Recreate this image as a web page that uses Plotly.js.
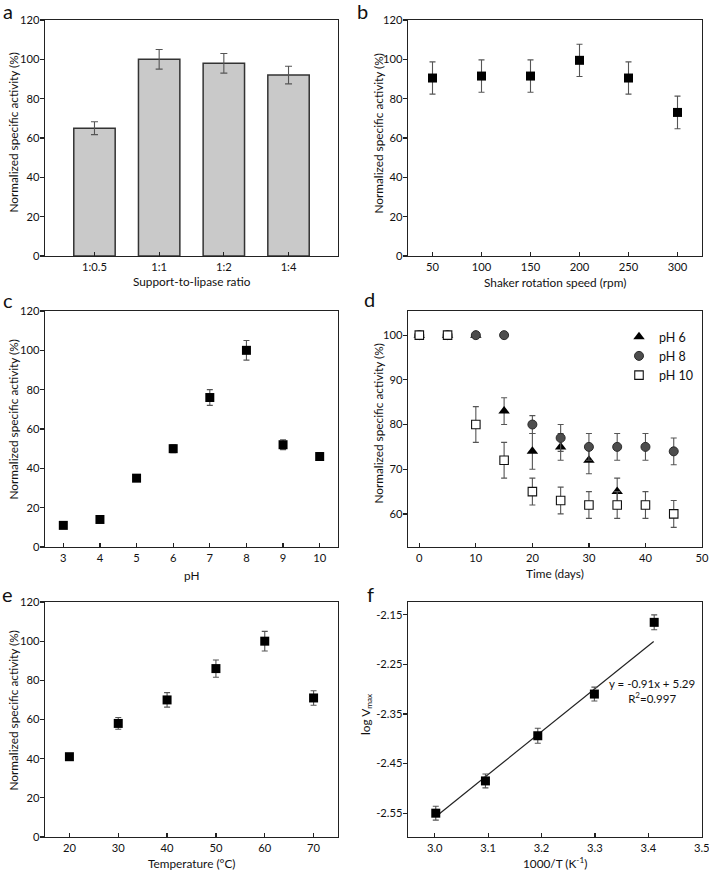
<!DOCTYPE html>
<html>
<head>
<meta charset="utf-8">
<script src="https://cdn.plot.ly/plotly-3.0.1.min.js"></script>
<style>
  html, body { margin: 0; padding: 0; background: #ffffff; }
  #chart { width: 709px; height: 870px; }
</style>
</head>
<body>
<div id="chart"></div>
<script>
// ---------- Data ----------
// (a) support-to-lipase ratio
const ratioCats = ['1:0.5', '1:1', '1:2', '1:4'];
const ratioVals = [65, 100, 98, 92];
const ratioErr = [3.3, 5, 5, 4.5];

// (b) shaker rotation speed
const speedX = [50, 100, 150, 200, 250, 300];
const speedVals = [90.5, 91.5, 91.5, 99.5, 90.5, 73];
const speedErr = [8.2, 8.2, 8.2, 8.2, 8.2, 8.3];

// (c) pH
const phX = [3, 4, 5, 6, 7, 8, 9, 10];
const phVals = [11, 14, 35, 50, 76, 100, 52, 46];
const phErr = [1, 1, 1, 2, 4, 5, 2.5, 2];

// (d) storage stability
const timeDays = [0, 5, 10, 15, 20, 25, 30, 35, 40, 45];
const ph6Days = [0, 5, 10, 15, 20, 25, 30, 35];
const ph6Vals = [100, 100, 100, 83, 74, 75, 72, 65];
const ph6Err = [0, 0, 0, 3, 4, 3, 3, 3];
const ph8Vals = [100, 100, 100, 100, 80, 77, 75, 75, 75, 74];
const ph8Err = [0, 0, 0, 0, 2, 3, 3, 3, 3, 3];
const ph10Vals = [100, 100, 80, 72, 65, 63, 62, 62, 62, 60];
const ph10Err = [0, 0, 4, 4, 3, 3, 3, 3, 3, 3];

// (e) temperature
const tempX = [20, 30, 40, 50, 60, 70];
const tempVals = [41, 58, 70, 86, 100, 71];
const tempErr = [1.5, 3, 3.7, 4.4, 5, 3.7];

// (f) Arrhenius plot
const invT = [3.002, 3.095, 3.193, 3.299, 3.411];
const logV = [-2.55, -2.485, -2.394, -2.31, -2.1655];
const logVErr = [0.014, 0.014, 0.015, 0.014, 0.015];
const fitX = [3.003, 3.41];
const fitY = [-2.556, -2.204];
const fXTicks = [3.0, 3.1, 3.2, 3.3, 3.4, 3.5];
const fTickVals = [-2.15, -2.25, -2.35, -2.45, -2.55];
const fTickText = ['-2.15', '-2.25', '-2.35', '-2.45', '-2.55'];

// ---------- Styling helpers ----------
const W = 709, H = 870;
const FONT = 'Lato, "Open Sans", sans-serif';
const INK = '#111111';
const ERR = '#555555';
const TICK_SIZE = 11.2;
const TITLE_SIZE = 11.8;

function px2x(p) { return p / W; }
function px2y(p) { return 1 - p / H; }

const colL = [px2x(45), px2x(338)];
const colR = [px2x(408), px2x(702)];
const row1 = [px2y(256), px2y(20)];
const row2 = [px2y(547), px2y(311)];
const row3 = [px2y(837), px2y(602)];

function xax(domain, anchor, extra) {
  return Object.assign({
    domain: domain, anchor: anchor,
    showline: true, mirror: true, linecolor: '#222', linewidth: 1.3,
    ticks: 'inside', ticklen: 4, tickwidth: 1.2, tickcolor: '#222',
    ticklabeloverflow: 'allow',
    showgrid: false, zeroline: false,
    tickfont: {family: FONT, size: TICK_SIZE, color: INK},
    fixedrange: true
  }, extra || {});
}
function yax(domain, anchor, extra) {
  return Object.assign({
    domain: domain, anchor: anchor,
    showline: true, mirror: true, linecolor: '#222', linewidth: 1.3,
    ticks: 'outside', ticklen: 4, tickwidth: 1.2, tickcolor: '#222',
    ticklabelstandoff: -2, ticklabeloverflow: 'allow',
    showgrid: false, zeroline: false,
    tickfont: {family: FONT, size: TICK_SIZE, color: INK},
    fixedrange: true
  }, extra || {});
}

function errY(arr, w) {
  return {type: 'data', array: arr, visible: true, color: ERR, thickness: 1.1, width: w || 3};
}
const sq = {symbol: 'square', size: 9, color: '#000', line: {width: 0}};

const traces = [
  // (a)
  {type: 'bar', x: ratioCats, y: ratioVals, xaxis: 'x', yaxis: 'y',
   marker: {color: '#c9c9c9', line: {color: '#333', width: 1.5}},
   error_y: errY(ratioErr, 3.5), showlegend: false, hoverinfo: 'x+y'},
  // (b)
  {type: 'scatter', mode: 'markers', x: speedX, y: speedVals, xaxis: 'x2', yaxis: 'y2',
   marker: sq, error_y: errY(speedErr), showlegend: false},
  // (c)
  {type: 'scatter', mode: 'markers', x: phX, y: phVals, xaxis: 'x3', yaxis: 'y3',
   marker: sq, error_y: errY(phErr), showlegend: false},
  // (d)
  {type: 'scatter', mode: 'markers', name: 'pH 6', x: ph6Days, y: ph6Vals, xaxis: 'x4', yaxis: 'y4',
   marker: {symbol: 'triangle-up', size: 10, color: '#000', line: {width: 0}},
   error_y: errY(ph6Err), showlegend: true},
  {type: 'scatter', mode: 'markers', name: 'pH 8', x: timeDays, y: ph8Vals, xaxis: 'x4', yaxis: 'y4',
   marker: {symbol: 'circle', size: 9, color: '#4d4d4d', line: {color: '#2a2a2a', width: 1}},
   error_y: errY(ph8Err), showlegend: true},
  {type: 'scatter', mode: 'markers', name: 'pH 10', x: timeDays, y: ph10Vals, xaxis: 'x4', yaxis: 'y4',
   marker: {symbol: 'square', size: 8.5, color: '#ffffff', line: {color: '#111', width: 1.1}},
   error_y: errY(ph10Err), showlegend: true},
  // (e)
  {type: 'scatter', mode: 'markers', x: tempX, y: tempVals, xaxis: 'x5', yaxis: 'y5',
   marker: sq, error_y: errY(tempErr), showlegend: false},
  // (f)
  {type: 'scatter', mode: 'lines', x: fitX, y: fitY, xaxis: 'x6', yaxis: 'y6',
   line: {color: '#222', width: 1.2}, showlegend: false, hoverinfo: 'skip'},
  {type: 'scatter', mode: 'markers', x: invT, y: logV, xaxis: 'x6', yaxis: 'y6',
   marker: sq, error_y: errY(logVErr), showlegend: false}
];

function letter(t, xp, yp) {
  return {text: t, xref: 'paper', yref: 'paper', x: px2x(xp), y: px2y(yp),
          xanchor: 'left', yanchor: 'middle', showarrow: false,
          font: {family: FONT, size: 20, color: INK}};
}
function xtitle(t, xp, yp) {
  return {text: t, xref: 'paper', yref: 'paper', x: px2x(xp), y: px2y(yp),
          xanchor: 'center', yanchor: 'middle', showarrow: false,
          font: {family: FONT, size: TITLE_SIZE, color: INK}};
}
function ytitle(t, xp, yp) {
  return {text: t, xref: 'paper', yref: 'paper', x: px2x(xp), y: px2y(yp),
          xanchor: 'center', yanchor: 'middle', showarrow: false, textangle: -90,
          font: {family: FONT, size: TITLE_SIZE, color: INK}};
}
const YT = 'Normalized specific activity (%)';
const pctTicks = [0, 20, 40, 60, 80, 100, 120];

const layout = {
  width: W, height: H,
  margin: {l: 0, r: 0, t: 0, b: 0},
  paper_bgcolor: '#ffffff', plot_bgcolor: '#ffffff',
  font: {family: FONT, color: INK},
  bargap: 0.36,
  xaxis: xax(colL, 'y', {type: 'category', range: [-0.765, 3.765]}),
  yaxis: yax(row1, 'x', {range: [0, 120], tickvals: pctTicks}),
  xaxis2: xax(colR, 'y2', {range: [25, 325], tickvals: speedX}),
  yaxis2: yax(row1, 'x2', {range: [0, 120], tickvals: pctTicks}),
  xaxis3: xax(colL, 'y3', {range: [2.5, 10.5], tickvals: phX}),
  yaxis3: yax(row2, 'x3', {range: [0, 120], tickvals: pctTicks}),
  xaxis4: xax(colR, 'y4', {range: [-2, 50.001], tickvals: [0, 10, 20, 30, 40, 50]}),
  yaxis4: yax(row2, 'x4', {range: [52.6, 105.4], tickvals: [60, 70, 80, 90, 100]}),
  xaxis5: xax(colL, 'y5', {range: [15, 75], tickvals: tempX}),
  yaxis5: yax(row3, 'x5', {range: [0, 120], tickvals: pctTicks}),
  xaxis6: xax(colR, 'y6', {range: [2.95, 3.5005], tickvals: fXTicks, tickformat: '.1f'}),
  yaxis6: yax(row3, 'x6', {range: [-2.598, -2.1245], tickvals: fTickVals, ticktext: fTickText}),
  showlegend: true,
  legend: {x: px2x(619), y: px2y(322), xanchor: 'left', yanchor: 'top',
           bgcolor: 'rgba(0,0,0,0)', borderwidth: 0,
           font: {family: FONT, size: 12.5, color: INK}, tracegroupgap: 0},
  annotations: [
    letter('a', 1, 11),
    letter('b', 355, 11),
    letter('c', 1, 300),
    letter('d', 362, 299),
    letter('e', 0, 594),
    letter('f', 365, 594),
    xtitle('Support-to-lipase ratio', 191.5, 281),
    xtitle('Shaker rotation speed (rpm)', 555, 282),
    xtitle('pH', 191.5, 575),
    xtitle('Time (days)', 555, 573),
    xtitle('Temperature (°C)', 191.5, 863),
    xtitle('1000/T (K<sup>-1</sup>)', 555, 863),
    ytitle(YT, 12.5, 133),
    ytitle(YT, 377.5, 133),
    ytitle(YT, 12.5, 420),
    ytitle(YT, 377.5, 423),
    ytitle(YT, 12.5, 711),
    ytitle('log V<sub>max</sub>', 366, 714),
    {text: 'y = -0.91x + 5.29<br>R<sup>2</sup>=0.997', xref: 'paper', yref: 'paper',
     x: px2x(652), y: px2y(691), xanchor: 'center', yanchor: 'middle', showarrow: false,
     align: 'center', font: {family: FONT, size: 11.5, color: INK}}
  ]
};

Plotly.newPlot('chart', traces, layout, {displayModeBar: false, staticPlot: true});
</script>
</body>
</html>
